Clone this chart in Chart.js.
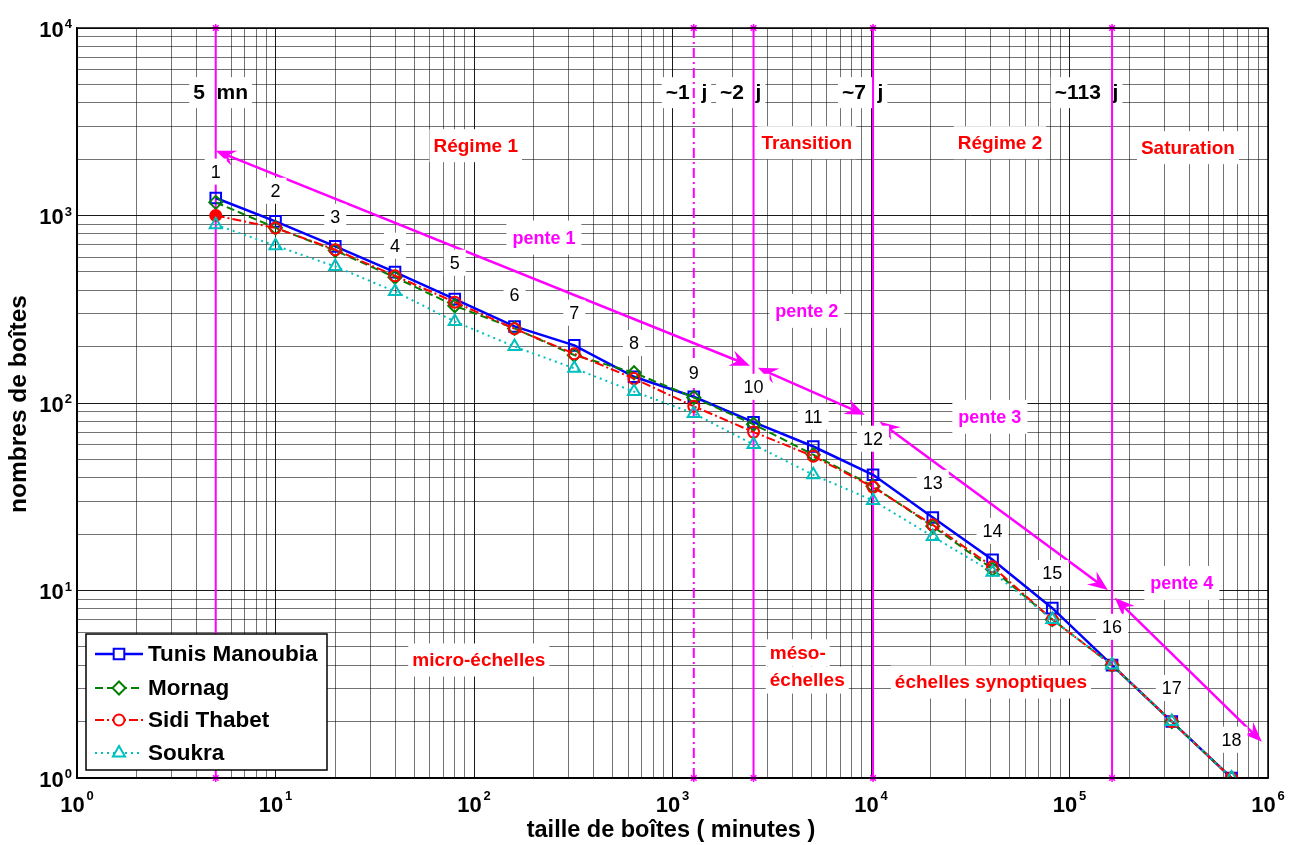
<!DOCTYPE html>
<html><head><meta charset="utf-8">
<script src="https://cdn.jsdelivr.net/npm/chart.js@4.4.1/dist/chart.umd.min.js"></script>
<style>html,body{margin:0;padding:0;background:#fff;}#wrap{width:1296px;height:845px;position:relative;}</style>
</head><body><div id="wrap"><canvas id="c" width="1296" height="845"></canvas></div>
<script>
// ---------- data ----------
const boxSizes = [5,10,20,40,80,160,320,640,1280,2560,5120,10240,20480,40960,81920,163840,327680,655360];
const tunisManoubia = [1240,930,684,499,358,256,203,138,108,79,58.6,41.4,24.5,14.6,8.05,4,2,1];
const mornag        = [1175,860,650,468,330,250,180,145,107,77,53,36,22,13,7,4,2,1];
const sidiThabet    = [1000,858,657,477,345,249,183,135,96,70,52,35.6,22.4,13.4,7,4,2,1];
const soukra        = [893,690,535,393,272,200,153,115,88,60,41.4,30.2,19.4,12.5,7,4,2,1];
const seriesNames = ['Tunis Manoubia','Mornag','Sidi Thabet','Soukra'];
const xDecades = [1,10,100,1000,10000,100000,1000000];
const xExponents = ['0','1','2','3','4','5','6'];
const yDecades = [1,10,100,1000,10000];
const yExponents = ['0','1','2','3','4'];
const markerLines = [5,1280,2560,10240,163840];
const markerLabels = ['5  mn','~1  j','~2  j','~7  j','~113  j'];
const pointNumbers = ['1','2','3','4','5','6','7','8','9','10','11','12','13','14','15','16','17','18'];
const xTitle = 'taille de boîtes ( minutes )';
const yTitle = 'nombres de boîtes';

// ---------- annotation placement (data coordinates) ----------
const markerLabelPos = [[3.85,4520],[925,4520],[1734,4520],[7140,4520],[84300,4520]];
const numberLabelY = [1714,1355,984,690,560,378,303,209,145,122,84.5,64.5,37.5,20.8,12.4,6.4,3.02,1.6];
const regionLabels = [
  ['Régime 1',102,2357],['Transition',4750,2445],['Régime 2',44650,2445],['Saturation',395000,2300],
  ['micro-échelles',105.7,4.26],['échelles synoptiques',40200,3.25]
];
const mesoLabel = [['méso-',3090,4.65],['échelles',3090,3.33]];
const slopeLabels = [['pente 1',225,762],['pente 2',4750,310],['pente 3',39700,84.4],['pente 4',368000,10.98]];
const slopeArrows = [
  [[5,2218],[2455,158]],
  [[2692,154],[9310,86.5]],
  [[11070,79.4],[156000,10.07]],
  [[169000,9.14],[931000,1.56]]
];

const FF = "'Liberation Sans', Arial, Helvetica, sans-serif";
const MAG = '#ff00ff';
const styles = [
  {color:'#0000ff', dash:[], style:'rect', radius:7.5, width:2.5},
  {color:'#008000', dash:[8,4], style:'rectRot', radius:6.5, width:2},
  {color:'#ff0000', dash:[9,3,2,3], style:'circle', radius:5.5, width:2},
  {color:'#00bfbf', dash:[2,4], style:'triangle', radius:7, width:2}
];
const seriesValues = [tunisManoubia, mornag, sidiThabet, soukra];

const datasets = seriesValues.map((vals,k)=>({
  label: seriesNames[k],
  data: boxSizes.map((x,i)=>({x:x,y:vals[i]})),
  borderColor: styles[k].color,
  borderWidth: styles[k].width,
  borderDash: styles[k].dash,
  pointStyle: styles[k].style,
  pointRadius: styles[k].radius,
  pointBorderWidth: 2,
  pointBorderColor: styles[k].color,
  pointBackgroundColor: boxSizes.map((x,i)=> (k===2 && i===0) ? '#ff0000' : 'rgba(0,0,0,0)'),
  tension: 0,
  fill: false,
  order: 4-k
}));

function gridTicks(minExp, maxExp){
  const t=[];
  for(let e=minExp;e<maxExp;e++){ for(let s=1;s<10;s++) t.push({value:s*Math.pow(10,e)}); }
  t.push({value:Math.pow(10,maxExp)});
  return t;
}
function isDecade(v){ const l=Math.log10(v); return Math.abs(l-Math.round(l))<1e-9; }

function textBox(ctx, text, x, y, font, size, color, align, padX, padY){
  ctx.font = font;
  const w = ctx.measureText(text).width;
  const left = align==='left' ? x : x - w/2;
  ctx.fillStyle = '#fff';
  ctx.fillRect(left-padX, y-size/2-padY, w+2*padX, size+2*padY);
  ctx.fillStyle = color; ctx.textAlign='left'; ctx.textBaseline='middle';
  ctx.fillText(text, left, y+1);
}
function arrowHead(ctx, tx, ty, ang, len, hw){
  const c=Math.cos(ang), s=Math.sin(ang);
  const bx=tx-len*c, by=ty-len*s, nx=-s, ny=c;
  ctx.beginPath();
  ctx.moveTo(tx,ty);
  ctx.lineTo(bx+nx*hw, by+ny*hw);
  ctx.lineTo(tx-len*0.65*c, ty-len*0.65*s);
  ctx.lineTo(bx-nx*hw, by-ny*hw);
  ctx.closePath(); ctx.fill();
}
function star(ctx,x,y,r){
  ctx.beginPath();
  for(let a=0;a<4;a++){ const an=a*Math.PI/4; ctx.moveTo(x-r*Math.cos(an),y-r*Math.sin(an)); ctx.lineTo(x+r*Math.cos(an),y+r*Math.sin(an)); }
  ctx.stroke();
}
function marker(ctx, st, x, y){
  ctx.save(); ctx.setLineDash([]); ctx.lineWidth=2; ctx.strokeStyle=st.color; ctx.fillStyle='#fff';
  ctx.beginPath();
  const r=st.radius;
  if(st.style==='rect'){ const h=r*Math.SQRT1_2; ctx.rect(x-h,y-h,2*h,2*h); }
  else if(st.style==='rectRot'){ ctx.moveTo(x,y-r);ctx.lineTo(x+r,y);ctx.lineTo(x,y+r);ctx.lineTo(x-r,y);ctx.closePath(); }
  else if(st.style==='circle'){ ctx.arc(x,y,r,0,2*Math.PI); }
  else { ctx.moveTo(x,y-r); ctx.lineTo(x+r*0.866,y+r*0.5); ctx.lineTo(x-r*0.866,y+r*0.5); ctx.closePath(); }
  ctx.fill(); ctx.stroke(); ctx.restore();
}

const annotations = {
  id:'annotations',
  beforeDatasetsDraw(chart){
    const ctx=chart.ctx, xs=chart.scales.x, ys=chart.scales.y, ca=chart.chartArea;
    const px=v=>xs.getPixelForValue(v), py=v=>ys.getPixelForValue(v);
    ctx.save();
    // slope arrows
    ctx.strokeStyle=MAG; ctx.fillStyle=MAG; ctx.lineWidth=2.5; ctx.setLineDash([]);
    slopeArrows.forEach(a=>{
      const x1=px(a[0][0]), y1=py(a[0][1]), x2=px(a[1][0]), y2=py(a[1][1]);
      const ang=Math.atan2(y2-y1,x2-x1);
      ctx.beginPath(); ctx.moveTo(x1+10*Math.cos(ang),y1+10*Math.sin(ang)); ctx.lineTo(x2-10*Math.cos(ang),y2-10*Math.sin(ang)); ctx.stroke();
      arrowHead(ctx,x2,y2,ang,20,8);
      arrowHead(ctx,x1,y1,ang+Math.PI,20,8);
    });
    // header labels
    markerLabels.forEach((t,i)=>{
      textBox(ctx,t,px(markerLabelPos[i][0]),py(markerLabelPos[i][1]),'bold 21px '+FF,21,'#000','left',4,5);
    });
    // vertical marker lines
    ctx.strokeStyle=MAG; ctx.lineWidth=2;
    markerLines.forEach((v,i)=>{
      const x=px(v);
      ctx.setLineDash(v===1280?[10,4,2,4]:[]);
      ctx.beginPath(); ctx.moveTo(x,ca.top); ctx.lineTo(x,ca.bottom); ctx.stroke();
      ctx.setLineDash([]); ctx.lineWidth=1.5;
      star(ctx,x,ca.top,4); star(ctx,x,ca.bottom,4);
      ctx.lineWidth=2;
    });
    // point numbers
    pointNumbers.forEach((t,i)=>{
      textBox(ctx,t,px(boxSizes[i]),py(numberLabelY[i]),'18px '+FF,18,'#000','center',6,4);
    });
    // region labels
    regionLabels.forEach(r=>textBox(ctx,r[0],px(r[1]),py(r[2]),'bold 19px '+FF,19,'#ff0000','center',4,7));
    mesoLabel.forEach(r=>textBox(ctx,r[0],px(r[1]),py(r[2]),'bold 19px '+FF,19,'#ff0000','left',4,4));
    slopeLabels.forEach(r=>textBox(ctx,r[0],px(r[1]),py(r[2]),'bold 18px '+FF,18,MAG,'center',6,8));
    ctx.restore();
  },
  afterDraw(chart){
    const ctx=chart.ctx, xs=chart.scales.x, ys=chart.scales.y, ca=chart.chartArea;
    ctx.save();
    // frame
    ctx.strokeStyle='#000'; ctx.lineWidth=1.5; ctx.setLineDash([]);
    ctx.strokeRect(ca.left,ca.top,ca.right-ca.left,ca.bottom-ca.top);
    // tick labels
    ctx.fillStyle='#000'; ctx.textBaseline='alphabetic'; ctx.textAlign='left';
    xDecades.forEach((v,i)=>{
      const cx=xs.getPixelForValue(v);
      ctx.font='bold 22px '+FF; const w1=ctx.measureText('10').width;
      ctx.font='bold 13px '+FF; const w2=ctx.measureText(xExponents[i]).width;
      const left=cx-(w1+w2+2)/2;
      ctx.font='bold 22px '+FF; ctx.fillText('10',left,ca.bottom+34);
      ctx.font='bold 13px '+FF; ctx.fillText(xExponents[i],left+w1+2,ca.bottom+22);
    });
    yDecades.forEach((v,i)=>{
      const cy=ys.getPixelForValue(v);
      ctx.font='bold 13px '+FF; const w2=ctx.measureText(yExponents[i]).width;
      ctx.font='bold 22px '+FF; const w1=ctx.measureText('10').width;
      const right=ca.left-5;
      ctx.fillText('10',right-w2-1-w1,cy+8.5);
      ctx.font='bold 13px '+FF; ctx.fillText(yExponents[i],right-w2,cy);
    });
    // axis titles
    ctx.textAlign='center'; ctx.textBaseline='middle';
    ctx.font='bold 23.5px '+FF;
    ctx.fillText(xTitle,671,831);
    ctx.save(); ctx.translate(19,404); ctx.rotate(-Math.PI/2);
    ctx.font='bold 24.5px '+FF;
    ctx.fillText(yTitle,0,0); ctx.restore();
    // legend
    const lx=ca.left+9, ly=ca.bottom-144, lw=241, lh=136;
    ctx.fillStyle='#fff'; ctx.fillRect(lx,ly,lw,lh);
    ctx.strokeStyle='#000'; ctx.lineWidth=1.5; ctx.strokeRect(lx,ly,lw,lh);
    const rows=[20,54,86,119];
    seriesNames.forEach((n,k)=>{
      const y=ly+rows[k], st=styles[k];
      ctx.strokeStyle=st.color; ctx.lineWidth=st.width; ctx.setLineDash(st.dash);
      ctx.beginPath(); ctx.moveTo(lx+9,y); ctx.lineTo(lx+57,y); ctx.stroke();
      ctx.setLineDash([]);
      marker(ctx,st,lx+33,y);
      ctx.fillStyle='#000'; ctx.font='bold 22.5px '+FF; ctx.textAlign='left'; ctx.textBaseline='middle';
      ctx.fillText(n,lx+62,y+1);
    });
    ctx.restore();
  }
};

new Chart(document.getElementById('c'),{
  type:'line',
  data:{datasets:datasets},
  options:{
    responsive:false, animation:false,
    layout:{padding:{left:0,right:28,top:28,bottom:0}},
    plugins:{legend:{display:false},tooltip:{enabled:false},title:{display:false}},
    scales:{
      x:{type:'logarithmic',min:1,max:1000000,
        afterBuildTicks:s=>{s.ticks=gridTicks(0,6);},
        afterFit:s=>{s.height=67;},
        ticks:{display:false,autoSkip:false},
        grid:{drawTicks:false,lineWidth:1,color:c=>isDecade(c.tick.value)?'rgba(0,0,0,0.9)':'rgba(0,0,0,0.55)'},
        border:{display:true,color:'#000',width:1.5}
      },
      y:{type:'logarithmic',min:1,max:10000,
        afterBuildTicks:s=>{s.ticks=gridTicks(0,4);},
        afterFit:s=>{s.width=77;},
        ticks:{display:false,autoSkip:false},
        grid:{drawTicks:false,lineWidth:1,color:c=>isDecade(c.tick.value)?'rgba(0,0,0,0.9)':'rgba(0,0,0,0.55)'},
        border:{display:true,color:'#000',width:1.5}
      }
    }
  },
  plugins:[annotations]
});
</script></body></html>
